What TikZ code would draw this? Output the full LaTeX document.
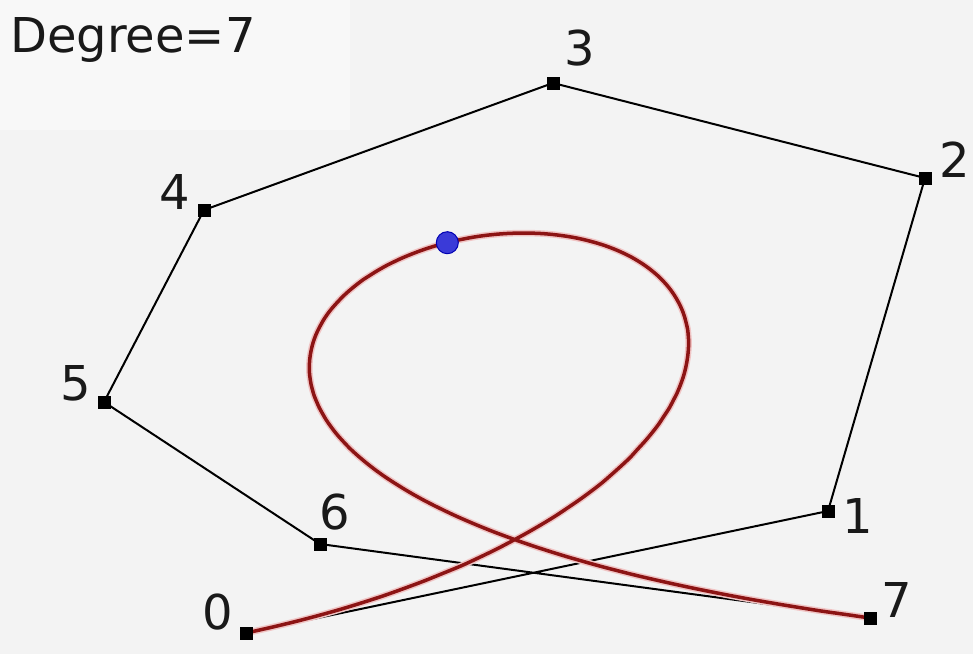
\documentclass[tikz,border=0pt]{standalone}
\usepackage{fontspec}
\setmainfont{DejaVu Sans}
\definecolor{bg}{HTML}{F3F3F3}
\definecolor{curvered}{HTML}{8C1414}
\definecolor{halo}{HTML}{F0C4C4}
\definecolor{ptblue}{HTML}{3A3AD8}
\begin{document}
\begin{tikzpicture}[x=10pt,y=-10pt,
  ctrl/.style={rectangle,fill=black,inner sep=0pt,minimum size=13pt},
  lbl/.style={font=\fontsize{48}{52}\selectfont,inner sep=0pt,text=black!90},
  poly/.style={draw=black,line width=2pt,line join=round}]
\fill[bg] (0,0) rectangle (97.3,65.4);
\useasboundingbox (0,0) rectangle (97.3,65.4);
\fill[white!40!bg] (0,0) rectangle (35,13);
% control points
\node[ctrl] (p0) at (24.6,63.3) {};
\node[ctrl] (p1) at (82.8,51.1) {};
\node[ctrl] (p2) at (92.5,17.8) {};
\node[ctrl] (p3) at (55.3,8.3) {};
\node[ctrl] (p4) at (20.4,21.0) {};
\node[ctrl] (p5) at (10.4,40.2) {};
\node[ctrl] (p6) at (32.0,54.4) {};
\node[ctrl] (p7) at (87.0,61.8) {};
% control polygon
\draw[poly] (p0.center) -- (p1.center) -- (p2.center) -- (p3.center) -- (p4.center) -- (p5.center) -- (p6.center) -- (p7.center);
% Bezier curve of degree 7
\foreach \w/\c in {6.5pt/halo, 3.5pt/curvered}{
\draw[line width=\w,draw=\c,line cap=round] plot[domain=0:1,samples=160,variable=\t,smooth]
 ({24.6*(1-\t)^7 + 7*82.8*(1-\t)^6*\t + 21*92.5*(1-\t)^5*\t^2 + 35*55.3*(1-\t)^4*\t^3 + 35*20.4*(1-\t)^3*\t^4 + 21*10.4*(1-\t)^2*\t^5 + 7*32.0*(1-\t)*\t^6 + 87.0*\t^7},
  {63.3*(1-\t)^7 + 7*51.1*(1-\t)^6*\t + 21*17.8*(1-\t)^5*\t^2 + 35*8.3*(1-\t)^4*\t^3 + 35*21.0*(1-\t)^3*\t^4 + 21*40.2*(1-\t)^2*\t^5 + 7*54.4*(1-\t)*\t^6 + 61.8*\t^7});
}
% redraw squares on top
\foreach \p in {p0,p1,p2,p3,p4,p5,p6,p7}{\node[ctrl] at (\p) {};}
% point at t=0.5
\node[circle,fill=ptblue,draw=blue!70!black,line width=1pt,minimum size=22pt,inner sep=0pt] (mid) at (44.73,24.27) {};
% labels
\node[lbl] (l0) at (21.8,61.2) {0};
\node[lbl] (l1) at (85.8,51.6) {1};
\node[lbl] (l2) at (95.5,16.0) {2};
\node[lbl] (l3) at (58.0,4.8) {3};
\node[lbl] (l4) at (17.5,19.2) {4};
\node[lbl] (l5) at (7.6,38.3) {5};
\node[lbl] (l6) at (33.5,51.2) {6};
\node[lbl] (l7) at (89.7,60.0) {7};
\node[lbl,anchor=west] (title) at (1.0,4.0) {Degree=7};
\end{tikzpicture}
\end{document}
